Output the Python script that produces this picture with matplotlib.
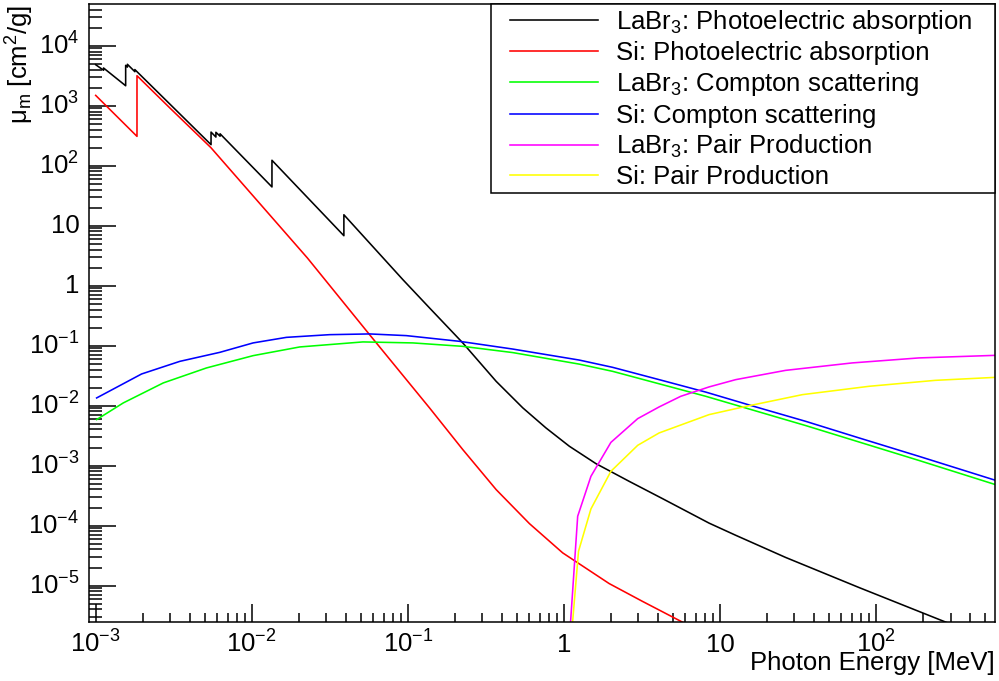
"""Mass attenuation coefficients of LaBr3 and Si split by interaction process
(photoelectric absorption, Compton scattering, pair production), drawn in the
ROOT look of the reference: log-log frame, inward ticks, boxed legend."""

import matplotlib

matplotlib.use("Agg")
import numpy as np
from matplotlib import pyplot as plt
from matplotlib.legend_handler import HandlerLine2D
from matplotlib.lines import Line2D
from matplotlib.ticker import FixedLocator, LogLocator, NullFormatter

# values (energy in MeV, mu_m in cm^2/g);
# repeated energies are absorption edges
labr3_pe_energy = [1.0e-3, 1.123e-3, 1.123e-3, 1.556e-3, 1.556e-3, 1.596e-3, 1.596e-3,
                   1.782e-3, 1.782e-3, 5.483e-3, 5.483e-3, 5.891e-3, 5.891e-3, 6.266e-3,
                   6.266e-3, 1.347e-2, 1.347e-2, 3.892e-2, 3.892e-2, 0.0929, 0.1377,
                   0.2249, 0.368, 0.545, 0.767, 1.084, 1.603, 2.618, 4.276, 8.51, 12.6,
                   26.3, 77.6, 251, 600]
labr3_pe_mu = [4820, 3900, 4250, 2150, 4700, 4400, 4900,
               3690, 4000, 224, 363, 300, 360, 310,
               340, 44.2, 123, 6.8, 15.2, 1.26, 0.425,
               0.111, 0.0254, 9.18e-3, 4.25e-3, 2.1e-3, 1.08e-3, 5.47e-4, 2.82e-4, 1.1e-4, 6.9e-5,
               2.95e-5, 9.3e-6, 2.75e-6, 1.12e-6]

si_pe_energy = [1.0e-3, 1.839e-3, 1.839e-3, 3.0e-3, 5.47e-3, 0.0227, 0.0569, 0.1377,
                0.2249, 0.368, 0.601, 0.982, 1.95, 3.18, 5.61, 20]
si_pe_mu = [1485, 308, 3160, 906, 200, 2.9, 0.152, 9.16e-3,
            1.85e-3, 3.98e-4, 1.08e-4, 3.51e-5, 1.08e-5, 5.47e-6, 2.54e-6, 4.5e-7]

labr3_compton_energy = [1.014e-3, 1.503e-3, 2.71e-3, 5.13e-3, 0.0102, 0.0203, 0.0515,
                        0.1076, 0.225, 0.47, 1.253, 2.05, 8.11, 35.4, 188, 582]
labr3_compton_mu = [5.85e-3, 0.0111, 0.0239, 0.0425, 0.0681, 0.0951, 0.1153,
                    0.111, 0.0973, 0.0766, 0.0492, 0.0373, 0.0143, 4.65e-3, 1.22e-3, 4.82e-4]

si_compton_energy = [1.014e-3, 1.968e-3, 3.46e-3, 6.24e-3, 0.0102, 0.01667, 0.03155,
                     0.0569, 0.0977, 0.2143, 0.47, 1.253, 2.05, 4.28, 8.11, 16.1,
                     35.4, 77.6, 188, 582]
si_compton_mu = [0.01343, 0.0337, 0.0547, 0.0773, 0.111, 0.1374, 0.1524,
                 0.1567, 0.1469, 0.118, 0.0877, 0.0575, 0.0435, 0.0262, 0.0168, 9.9e-3,
                 5.47e-3, 2.9e-3, 1.43e-3, 5.69e-4]

labr3_pair_energy = [1.022, 1.225, 1.49, 2.0, 2.97, 4.07, 5.6, 8.51, 12.6, 26.3, 70.3, 188, 582]
labr3_pair_mu = [1.3e-7, 1.43e-4, 6.64e-4, 2.44e-3, 6.07e-3, 9.5e-3, 0.01429, 0.0205,
                 0.0271, 0.0387, 0.0515, 0.0624, 0.0689]

si_pair_energy = [1.022, 1.24, 1.49, 2.0, 2.97, 4.07, 8.51, 14.7, 33.7, 90.2, 240, 582]
si_pair_mu = [9e-8, 3.73e-5, 1.9e-4, 8.04e-4, 2.18e-3, 3.5e-3, 7.08e-3, 9.73e-3,
              0.01524, 0.021, 0.0264, 0.0296]

series_labels = [
    "LaBr$_3$: Photoelectric absorption",
    "Si: Photoelectric absorption",
    "LaBr$_3$: Compton scattering",
    "Si: Compton scattering",
    "LaBr$_3$: Pair Production",
    "Si: Pair Production",
]
series_colors = ["#000000", "#ff0000", "#00ff00", "#0000ff", "#ff00ff", "#ffff00"]

x_decades = [-3, -2, -1, 0, 1, 2]
y_decades = [-5, -4, -3, -2, -1, 0, 1, 2, 3, 4]

_X_LIMITS = (9.06e-4, 578)
_Y_LIMITS = (2.5e-6, 4.9e4)
_FONT = "Liberation Sans"
_FONT_SIZE = 18.5


def _decade_label(exponent: int) -> str:
    if exponent == 0:
        return "1"
    if exponent == 1:
        return "10"
    return f"$10^{{{exponent}}}$"


plt.rcParams["font.family"] = [_FONT, "DejaVu Sans"]
plt.rcParams["mathtext.fontset"] = "custom"
plt.rcParams["mathtext.rm"] = _FONT
plt.rcParams["mathtext.it"] = _FONT + ":italic"
plt.rcParams["mathtext.default"] = "regular"

fig = plt.figure(figsize=(9.99, 6.81), dpi=100)
ax = fig.add_axes([89 / 999, 1 - 621.7 / 681, 906 / 999, 617.4 / 681])

series = [
    (labr3_pe_energy, labr3_pe_mu),
    (si_pe_energy, si_pe_mu),
    (labr3_compton_energy, labr3_compton_mu),
    (si_compton_energy, si_compton_mu),
    (labr3_pair_energy, labr3_pair_mu),
    (si_pair_energy, si_pair_mu),
]
for (energy, mu), label, color in zip(series, series_labels, series_colors):
    ax.plot(energy, mu, color=color, lw=1.15, label=label)

ax.set_xscale("log")
ax.set_yscale("log")
ax.set_xlim(*_X_LIMITS)
ax.set_ylim(*_Y_LIMITS)

x_major = [10.0 ** e for e in x_decades]
y_major = [10.0 ** e for e in y_decades]
ax.xaxis.set_major_locator(FixedLocator(x_major))
ax.yaxis.set_major_locator(FixedLocator(y_major))
ax.set_xticklabels([_decade_label(e) for e in x_decades])
ax.set_yticklabels([_decade_label(e) for e in y_decades])
ax.xaxis.set_minor_locator(LogLocator(base=10, subs=np.arange(2, 10), numticks=30))
ax.yaxis.set_minor_locator(LogLocator(base=10, subs=np.arange(2, 10), numticks=30))
ax.xaxis.set_minor_formatter(NullFormatter())
ax.yaxis.set_minor_formatter(NullFormatter())

ax.tick_params(axis="both", which="both", direction="in", top=False, right=False,
               width=1.1, labelsize=_FONT_SIZE, colors="black")
ax.tick_params(axis="x", which="major", length=13.2, pad=22)
ax.tick_params(axis="x", which="minor", length=6.6)
ax.tick_params(axis="y", which="major", length=19.4, pad=7)
ax.tick_params(axis="y", which="minor", length=9.7)
for tick_label in ax.get_xticklabels():
    tick_label.set_verticalalignment("baseline")
for tick_label in ax.get_yticklabels():
    tick_label.set_verticalalignment("center")
for spine in ax.spines.values():
    spine.set_linewidth(1.1)

ax.set_xlabel("Photon Energy [MeV]", fontsize=_FONT_SIZE, loc="right")
ax.xaxis.set_label_coords(1.0, -0.047)
ax.set_ylabel("μ$_{m}$ [cm$^{2}$/g]", fontsize=_FONT_SIZE, loc="top")
ax.yaxis.set_label_coords(-0.058, 1.0)

legend = ax.legend(loc="upper left", bbox_to_anchor=((491 - 89) / 906, 0.0, (995 - 491) / 906, 1.0),
                   mode="expand", fontsize=_FONT_SIZE, frameon=True, fancybox=False,
                   framealpha=1, edgecolor="black", handlelength=4.0, handletextpad=0.7,
                   labelspacing=0.2, borderpad=0.15, borderaxespad=0.0,
                   handler_map={Line2D: HandlerLine2D(xpad=0.58)})
legend.get_frame().set_linewidth(1.1)

fig.savefig("out.png", dpi=100)
